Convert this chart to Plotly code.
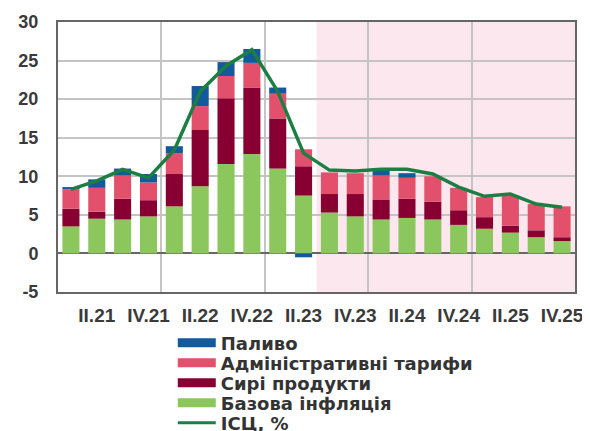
import plotly.graph_objects as go

quarters = ["I.21", "II.21", "III.21", "IV.21",
            "I.22", "II.22", "III.22", "IV.22",
            "I.23", "II.23", "III.23", "IV.23",
            "I.24", "II.24", "III.24", "IV.24",
            "I.25", "II.25", "III.25", "IV.25"]

# внески до ІСЦ, в.п.
base_infl = [3.5, 4.5, 4.4, 4.8, 6.1, 8.7, 11.6, 12.9, 11.0, 7.5,
             5.3, 4.8, 4.4, 4.6, 4.4, 3.7, 3.2, 2.7, 2.1, 1.6]
raw_food = [2.3, 0.9, 2.7, 2.1, 4.2, 7.3, 8.5, 8.6, 6.5, 3.8,
            2.4, 2.9, 2.6, 2.5, 2.3, 1.9, 1.5, 0.9, 0.9, 0.5]
admin = [2.5, 3.1, 3.0, 2.3, 2.7, 3.1, 2.9, 3.2, 3.2, 2.2,
         2.8, 2.7, 3.1, 2.7, 3.3, 2.9, 2.6, 3.9, 3.4, 4.0]
fuel = [0.3, 1.1, 0.9, 1.1, 0.9, 2.6, 1.8, 1.8, 0.8, -0.5,
        0.0, 0.0, 0.6, 0.6, 0.0, 0.0, 0.0, 0.0, 0.0, 0.0]
cpi = [8.3, 9.4, 10.9, 9.8, 13.4, 21.0, 24.3, 26.4, 21.0, 13.0,
       10.8, 10.7, 10.9, 10.9, 10.3, 8.6, 7.4, 7.7, 6.4, 6.0]

forecast_from = "III.23"
tick_labels = [q for q in quarters if q.startswith("II.") or q.startswith("IV.")]
y_ticks = [-5, 0, 5, 10, 15, 20, 25, 30]
y_tick_labels = ["-5", "0", "5", "10", "15", "20", "25", "30"]

x = list(range(len(quarters)))
tickvals = [quarters.index(q) for q in tick_labels]

c_fuel = "#13599b"
c_admin = "#e2506b"
c_raw = "#880032"
c_base = "#8cc75e"
c_cpi = "#1b7f43"

fig = go.Figure()
# stacked bars: bottom -> top
for name, vals, col in [("Базова інфляція", base_infl, c_base),
                        ("Сирі продукти", raw_food, c_raw),
                        ("Адміністративні тарифи", admin, c_admin),
                        ("Паливо", fuel, c_fuel)]:
    fig.add_trace(go.Bar(x=x, y=vals, name=name, marker_color=col,
                         marker_line_width=0, width=0.66, showlegend=False))

fig.add_trace(go.Scatter(x=x, y=cpi, mode="lines", name="ІСЦ, %",
                         line=dict(color=c_cpi, width=3.5), showlegend=False))

# legend: one small legend per row so the rows sit 20px apart
leg_font = dict(family="DejaVu Sans", size=18, color="#333333", weight="bold")
legend_rows = [("Паливо", c_fuel, 9), ("Адміністративні тарифи", c_admin, 9),
               ("Сирі продукти", c_raw, 9), ("Базова інфляція", c_base, 9),
               ("ІСЦ, %", c_cpi, 3)]
legends = {}
for i, (name, col, w) in enumerate(legend_rows):
    key = "legend" if i == 0 else "legend%d" % (i + 1)
    fig.add_trace(go.Scatter(x=[None], y=[None], mode="lines", name=name,
                             line=dict(color=col, width=w), legend=key))
    legends[key] = dict(x=0.222, xanchor="left", y=-0.189 - i * 0.074, yanchor="middle",
                        font=leg_font, bgcolor="rgba(0,0,0,0)", itemwidth=38)

# forecast area
fig.add_shape(type="rect", xref="x", yref="paper",
              x0=quarters.index(forecast_from) - 0.5, x1=len(quarters) - 0.5,
              y0=0, y1=1, fillcolor="#fde7ee", line_width=0, layer="below")

tick_font = dict(family="Liberation Sans, Arial", size=18, color="#3a3a3a", weight="bold")
xtick_font = dict(tick_font, size=19)

# page body has an 8px margin, so the figure is a bit smaller than the window
fig.update_layout(
    width=582, height=423,
    margin=dict(l=50, r=15, t=14, b=139, autoexpand=False),
    plot_bgcolor="white", paper_bgcolor="white",
    barmode="relative", bargap=0.34,
    showlegend=True,
    **legends,
)
fig.update_xaxes(range=[-0.5, len(quarters) - 0.5], tickvals=tickvals, ticktext=tick_labels,
                 showgrid=False, tickfont=xtick_font, ticks="", ticklabelstandoff=5,
                 showline=True, linecolor="#666666", linewidth=2, mirror=True,
                 minor=dict(tick0=-0.5, dtick=4, showgrid=True, gridcolor="#c4c4c4", gridwidth=1.5))
fig.update_yaxes(range=[-5, 30], tickvals=y_ticks, ticktext=y_tick_labels,
                 tickfont=tick_font, ticks="", ticklabelstandoff=14,
                 showgrid=True, gridcolor="#c4c4c4", gridwidth=1.5,
                 zeroline=True, zerolinecolor="#666666", zerolinewidth=2,
                 showline=True, linecolor="#666666", linewidth=2, mirror=True)

fig.write_html("out.html")
